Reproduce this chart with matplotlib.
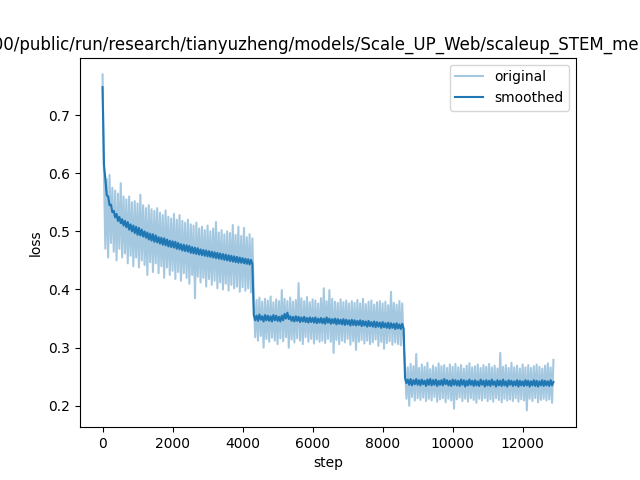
import numpy as np
import matplotlib
matplotlib.use("Agg")
import matplotlib.pyplot as plt

# loss values (x1000), one value every 40 steps
stride = 40

phase1_orig = [
    770, 600, 470, 590, 455, 597, 480, 575, 465, 570,
    450, 565, 470, 583, 455, 560, 462, 555, 445, 560,
    458, 550, 440, 552, 455, 548, 438, 563, 450, 545,
    442, 540, 425, 545, 447, 538, 430, 535, 445, 540,
    428, 532, 440, 528, 420, 536, 438, 525, 425, 522,
    432, 530, 418, 520, 430, 528, 415, 518, 428, 515,
    420, 520, 410, 512, 425, 510, 385, 515, 422, 505,
    412, 508, 420, 502, 405, 510, 418, 500, 408, 505,
    415, 516, 402, 498, 412, 502, 400, 495, 410, 500,
    398, 497, 408, 511, 402, 494, 405, 508, 396, 492,
    404, 506, 398, 490, 402, 495, 395, 488]
phase1_smooth = [
    748, 615, 590, 562, 560, 545, 546, 533, 535, 524,
    530, 518, 525, 514, 521, 510, 518, 507, 516, 503,
    512, 500, 510, 497, 508, 494, 506, 493, 503, 491,
    500, 489, 498, 486, 496, 484, 495, 482, 493, 481,
    490, 479, 489, 477, 488, 476, 486, 474, 484, 473,
    483, 472, 482, 470, 480, 469, 478, 467, 477, 466,
    476, 465, 475, 463, 473, 462, 472, 461, 471, 460,
    469, 459, 468, 458, 467, 457, 466, 456, 465, 455,
    464, 454, 463, 453, 462, 452, 461, 451, 460, 450,
    459, 449, 458, 448, 457, 447, 456, 446, 455, 446,
    454, 445, 453, 444, 452, 443, 451, 444]

phase2_orig = [
    385, 318, 382, 312, 386, 320, 379, 300, 384, 315,
    381, 310, 388, 317, 378, 312, 383, 306, 380, 316,
    399, 311, 384, 318, 380, 300, 386, 314, 379, 309,
    382, 316, 411, 312, 385, 306, 380, 318, 387, 310,
    378, 315, 383, 307, 381, 314, 376, 310, 385, 312,
    402, 308, 380, 315, 399, 310, 384, 291, 379, 313,
    377, 306, 383, 312, 378, 309, 381, 315, 376, 305,
    380, 311, 377, 296, 382, 310, 376, 313, 384, 307,
    375, 312, 379, 306, 381, 309, 374, 314, 378, 303,
    380, 310, 376, 298, 379, 308, 373, 311, 396, 305,
    377, 309, 374, 306, 380, 304, 376, 307]
phase2_smooth = [
    356, 347, 355, 346, 357, 348, 354, 345, 356, 347,
    355, 346, 354, 345, 356, 347, 355, 346, 353, 345,
    355, 347, 358, 350, 360, 349, 354, 346, 353, 345,
    354, 346, 353, 344, 352, 345, 353, 344, 351, 343,
    352, 344, 351, 343, 352, 342, 350, 343, 351, 342,
    350, 341, 352, 343, 350, 341, 349, 342, 350, 340,
    349, 341, 348, 340, 349, 339, 348, 340, 347, 338,
    348, 339, 347, 338, 346, 339, 347, 337, 346, 338,
    345, 336, 346, 337, 344, 336, 345, 335, 344, 336,
    343, 334, 344, 335, 342, 334, 343, 333, 342, 334,
    341, 332, 342, 333, 340, 332, 341, 333]

phase3_orig = [
    270, 212, 266, 200, 272, 215, 268, 209, 289, 213,
    265, 210, 271, 214, 267, 208, 274, 212, 263, 209,
    269, 215, 266, 207, 273, 211, 268, 213, 270, 206,
    265, 212, 271, 209, 267, 195, 272, 211, 266, 214,
    270, 208, 264, 212, 269, 207, 273, 213, 266, 210,
    268, 205, 271, 212, 265, 209, 270, 213, 267, 208,
    272, 211, 266, 207, 269, 213, 264, 210, 291, 206,
    267, 212, 270, 209, 265, 211, 274, 208, 266, 213,
    269, 207, 264, 211, 271, 209, 266, 192, 270, 212,
    265, 208, 268, 213, 271, 206, 267, 210, 264, 212,
    269, 209, 273, 211, 266, 205, 279]
phase3_smooth = [
    248, 239, 245, 236, 246, 235, 244, 237, 246, 236,
    244, 235, 245, 237, 243, 234, 245, 236, 246, 235,
    244, 236, 245, 234, 243, 236, 244, 235, 246, 237,
    244, 235, 243, 234, 245, 236, 244, 235, 243, 234,
    245, 236, 244, 233, 243, 235, 245, 236, 243, 234,
    244, 235, 242, 234, 245, 236, 243, 233, 244, 235,
    243, 234, 245, 236, 242, 233, 244, 235, 243, 234,
    245, 235, 242, 233, 244, 236, 243, 234, 242, 235,
    244, 233, 243, 235, 242, 234, 244, 235, 243, 233,
    242, 235, 244, 234, 243, 233, 242, 235, 244, 234,
    243, 235, 242, 234, 244, 235, 241]

original = np.array(phase1_orig + phase2_orig + phase3_orig) / 1000
smoothed = np.array(phase1_smooth + phase2_smooth + phase3_smooth) / 1000
steps = np.arange(len(original)) * stride

title = "/mnt/data00/public/run/research/tianyuzheng/models/Scale_UP_Web/scaleup_STEM_merged/loss.jpg"

plt.figure(figsize=(6.4, 4.8), dpi=100)
plt.plot(steps, original, color="tab:blue", alpha=0.4, label="original")
plt.plot(steps, smoothed, color="tab:blue", label="smoothed")
plt.legend()
plt.xlabel("step")
plt.ylabel("loss")
plt.title(title)
plt.savefig("out.png")
